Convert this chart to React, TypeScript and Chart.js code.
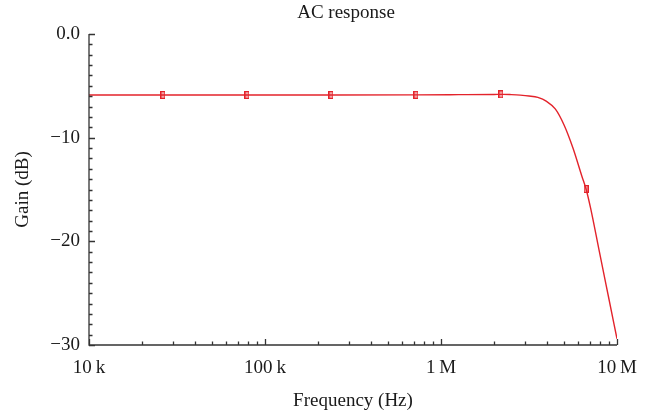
import React, { useEffect, useRef } from 'react';
import { Chart, registerables } from 'chart.js';

Chart.register(...registerables);

const TITLE = 'AC response';
const X_TITLE = 'Frequency (Hz)';
const Y_TITLE = 'Gain (dB)';

const freqHz = [
  1e4, 2.63e4, 7.9e4, 2.37e5, 7.21e5, 1.26e6, 2.0e6, 2.24e6, 2.51e6, 2.82e6, 3.16e6, 3.55e6,
  3.98e6, 4.47e6, 5.01e6, 5.62e6, 6.31e6, 6.67e6, 7.08e6, 7.94e6, 8.91e6, 1e7,
];
const gainDb = [
  -5.88, -5.88, -5.88, -5.88, -5.87, -5.85, -5.83, -5.82, -5.85, -5.9, -5.98, -6.12,
  -6.5, -7.25, -8.8, -11.0, -13.7, -14.95, -16.8, -21.0, -25.2, -29.4,
];

const markerHz = [2.63e4, 7.9e4, 2.37e5, 7.21e5, 2.19e6, 6.67e6];
const markerDb = [-5.88, -5.88, -5.88, -5.87, -5.82, -14.95];

const xTickValues = [1e4, 1e5, 1e6, 1e7];
const xTickLabels = ['10\u2009k', '100\u2009k', '1\u2009M', '10\u2009M'];
const yTickValues = [-30, -20, -10, 0];
const yTickLabels = ['\u221230', '\u221220', '\u221210', '0.0'];

const RED = '#e3232b';
const AXIS = '#333333';
const TEXT = '#1a1a1a';
const FONT_FAMILY = '"Liberation Serif", "Times New Roman", serif';
const FONT_SIZE = 19;

const decorPlugin = {
  id: 'decor',
  afterDraw(chart: any) {
    const { ctx, chartArea } = chart;
    const xs = chart.scales.x;
    const ys = chart.scales.y;
    const L = chartArea.left;
    const B = chartArea.bottom;
    ctx.save();
    ctx.strokeStyle = AXIS;
    ctx.lineWidth = 1.3;
    ctx.beginPath();
    ctx.moveTo(L, chartArea.top);
    ctx.lineTo(L, B);
    ctx.lineTo(chartArea.right, B);
    const yMin = ys.min, yMax = ys.max;
    for (let v = yMin; v <= yMax + 1e-9; v += 1) {
      const py = Math.round(ys.getPixelForValue(v)) + 0.5;
      const len = Math.abs(v % 10) < 1e-9 ? 6 : 3.5;
      ctx.moveTo(L, py);
      ctx.lineTo(L + len, py);
    }
    for (let d = xs.min; d <= xs.max * 1.0001; d *= 10) {
      for (let m = 1; m <= 9; m++) {
        const v = d * m;
        if (v > xs.max * 1.0001) break;
        const px = Math.round(xs.getPixelForValue(v)) + 0.5;
        const len = m === 1 ? 6 : 3.5;
        ctx.moveTo(px, B);
        ctx.lineTo(px, B - len);
      }
    }
    ctx.stroke();

    ctx.fillStyle = TEXT;
    ctx.font = `${FONT_SIZE}px ${FONT_FAMILY}`;
    ctx.textAlign = 'center';
    ctx.textBaseline = 'middle';
    const cx = (chartArea.left + chartArea.right) / 2;
    ctx.fillText(TITLE, cx - 7, 13);
    ctx.fillText(X_TITLE, cx, 401);
    ctx.translate(23, (chartArea.top + chartArea.bottom) / 2);
    ctx.rotate(-Math.PI / 2);
    ctx.fillText(Y_TITLE, 0, 0);
    ctx.restore();
  },
};

export default function App() {
  const ref = useRef<HTMLCanvasElement | null>(null);

  useEffect(() => {
    const canvas = ref.current;
    if (!canvas) return;

    const mk = document.createElement('canvas');
    mk.width = 5;
    mk.height = 8;
    const mctx = mk.getContext('2d');
    if (mctx) {
      mctx.fillStyle = 'rgba(227,35,43,0.35)';
      mctx.fillRect(0, 0, 5, 8);
      mctx.strokeStyle = RED;
      mctx.lineWidth = 1.2;
      mctx.strokeRect(0.6, 0.6, 3.8, 6.8);
    }

    const chart = new Chart(canvas, {
      type: 'scatter',
      data: {
        datasets: [
          {
            label: 'Gain',
            data: freqHz.map((f, i) => ({ x: f, y: gainDb[i] })),
            showLine: true,
            borderColor: RED,
            backgroundColor: RED,
            borderWidth: 1.4,
            pointRadius: 0,
            cubicInterpolationMode: 'monotone',
          },
          {
            label: 'Markers',
            data: markerHz.map((f, i) => ({ x: f, y: markerDb[i] })),
            showLine: false,
            pointStyle: mk as any,
            pointRadius: 4,
            borderColor: RED,
            backgroundColor: RED,
          },
        ],
      },
      options: {
        responsive: false,
        animation: false,
        layout: { padding: { top: 34, right: 42, left: 0, bottom: 0 } },
        plugins: {
          legend: { display: false },
          tooltip: { enabled: false },
          title: { display: false },
        },
        scales: {
          x: {
            type: 'logarithmic',
            min: 1e4,
            max: 1e7,
            grid: { display: false, drawTicks: false },
            border: { display: false },
            afterFit: (s: any) => {
              s.height = 72;
            },
            afterBuildTicks: (s: any) => {
              s.ticks = xTickValues.map((v) => ({ value: v }));
            },
            ticks: {
              autoSkip: false,
              maxRotation: 0,
              padding: 12,
              color: TEXT,
              font: { family: FONT_FAMILY, size: FONT_SIZE },
              callback: (v: any) => {
                const i = xTickValues.indexOf(Number(v));
                return i >= 0 ? xTickLabels[i] : '';
              },
            },
          },
          y: {
            type: 'linear',
            min: -30,
            max: 0,
            grid: { display: false, drawTicks: false },
            border: { display: false },
            afterFit: (s: any) => {
              s.width = 89;
            },
            afterBuildTicks: (s: any) => {
              s.ticks = yTickValues.map((v) => ({ value: v }));
            },
            ticks: {
              autoSkip: false,
              padding: 9,
              color: TEXT,
              font: { family: FONT_FAMILY, size: FONT_SIZE },
              callback: (v: any) => {
                const i = yTickValues.indexOf(Number(v));
                return i >= 0 ? yTickLabels[i] : '';
              },
            },
          },
        },
      },
      plugins: [decorPlugin],
    } as any);

    return () => chart.destroy();
  }, []);

  return (
    <div style={{ position: 'fixed', left: 0, top: 0, width: 659, height: 417, background: '#fff' }}>
      <canvas ref={ref} width={659} height={417} style={{ display: 'block' }} />
    </div>
  );
}
